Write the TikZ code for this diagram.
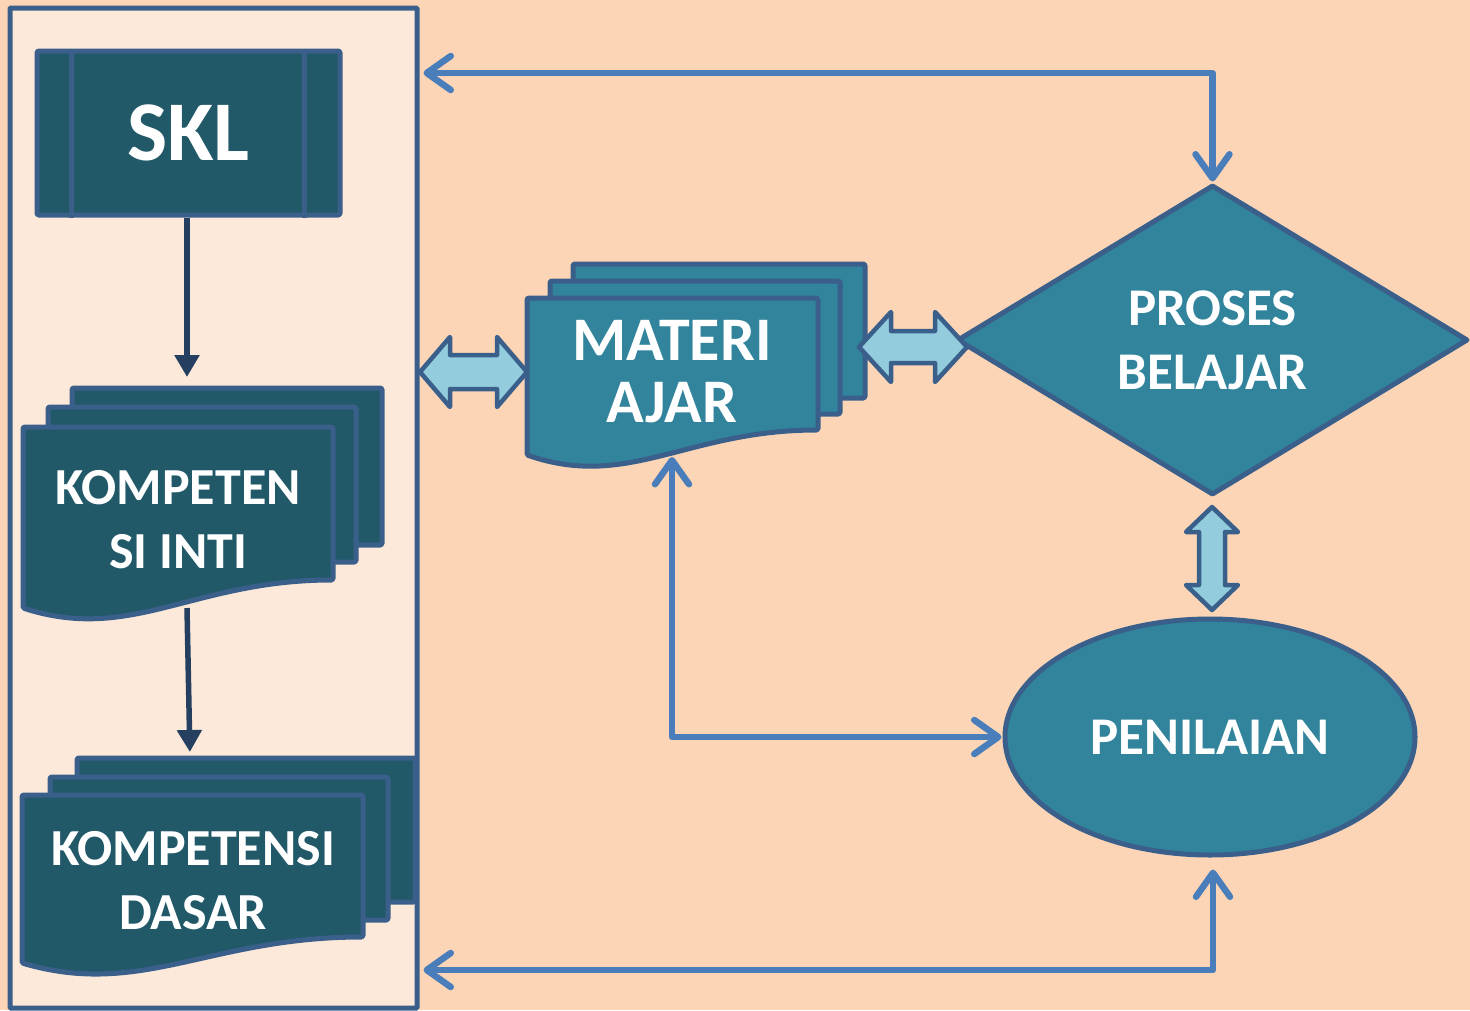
\documentclass[tikz,border=0pt]{standalone}
\usepackage{fontspec}
\setmainfont{Carlito}
\usetikzlibrary{arrows.meta,shapes.geometric}

\definecolor{bgpeach}{HTML}{FBD5B5}
\definecolor{panelfill}{HTML}{FDE9D9}
\definecolor{edgeblue}{HTML}{3A5F8B}
\definecolor{darkteal}{HTML}{215968}
\definecolor{midteal}{HTML}{31849B}
\definecolor{linkblue}{HTML}{4A7EBB}
\definecolor{navy}{HTML}{243F60}
\definecolor{paleblue}{HTML}{93CDDD}

% front sheet of a document stack: style, left, top, right, right-bottom, left-bottom
\newcommand{\docsheet}[6]{%
  \path[#1] (#2,#3) -- (#4,#3) -- (#4,#5)
    .. controls ({#4-0.45*(#4-#2)},#5) and ({#2+0.35*(#4-#2)},{#6+35}) .. (#2,#6) -- cycle;}
% horizontal two-headed block arrow: x1, x2, y, head length, head half-width, shaft half-width
\newcommand{\hblock}[6]{%
  \path[blockarrow] (#1,#3) -- ({#1+#4},{#3-#5}) -- ({#1+#4},{#3-#6}) -- ({#2-#4},{#3-#6})
    -- ({#2-#4},{#3-#5}) -- (#2,#3) -- ({#2-#4},{#3+#5}) -- ({#2-#4},{#3+#6})
    -- ({#1+#4},{#3+#6}) -- ({#1+#4},{#3+#5}) -- cycle;}
% vertical two-headed block arrow: y1, y2, x, head length, head half-width, shaft half-width
\newcommand{\vblock}[6]{%
  \path[blockarrow] (#3,#1) -- ({#3-#5},{#1+#4}) -- ({#3-#6},{#1+#4}) -- ({#3-#6},{#2-#4})
    -- ({#3-#5},{#2-#4}) -- (#3,#2) -- ({#3+#5},{#2-#4}) -- ({#3+#6},{#2-#4})
    -- ({#3+#6},{#1+#4}) -- ({#3+#5},{#1+#4}) -- cycle;}

\begin{document}
\begin{tikzpicture}[x=1pt,y=-1pt,
  shapeedge/.style={draw=edgeblue, line width=5pt, line join=round},
  darkpage/.style={shapeedge, fill=darkteal, rounded corners=1.5pt},
  tealpage/.style={shapeedge, fill=midteal, rounded corners=1.5pt},
  blockarrow/.style={shapeedge, fill=paleblue, line width=4.5pt},
  label/.style={text=white, align=center, inner sep=0pt},
  conn/.style={draw=linkblue, line width=6.5pt, line join=round},
  flow/.style={draw=navy, line width=5.5pt, -{Triangle[length=22pt,width=24pt]}},
  >={Straight Barb[length=24pt,width=34pt,round]}]

\fill[bgpeach] (0,0) rectangle (1470,1010);
\useasboundingbox (0,0) rectangle (1470,1010);

% left panel
\node[draw=edgeblue, fill=panelfill, line width=5pt, minimum width=407pt,
      minimum height=1000pt, inner sep=0pt, rounded corners=1pt] (panel) at (213.5,508) {};

% SKL (predefined process box)
\node[darkpage, minimum width=303pt, minimum height=164pt, inner sep=0pt,
      label, font=\bfseries\fontsize{85}{100}\selectfont] (skl) at (188.5,133) {SKL};
\draw[shapeedge] ([xshift=37pt]skl.north west) -- ([xshift=37pt]skl.south west);
\draw[shapeedge] ([xshift=-38pt]skl.north east) -- ([xshift=-38pt]skl.south east);

% KOMPETENSI INTI stack
\path[darkpage] (72,388) rectangle (382,545);
\path[darkpage] (48,407) rectangle (356,562);
\docsheet{darkpage}{23}{427}{333}{580}{608}
\node[label, font=\bfseries\fontsize{52}{64}\selectfont] (ki) at (178,520) {KOMPETEN\\SI INTI};
\coordinate (ki-top) at (187,388);
\coordinate (ki-bottom) at (187,608);

% KOMPETENSI DASAR stack
\path[darkpage] (77,758) rectangle (415,902);
\path[darkpage] (50,777) rectangle (388,920);
\docsheet{darkpage}{22}{795}{363}{937}{963}
\node[label, font=\bfseries\fontsize{52}{64}\selectfont] (kd) at (193,881) {KOMPETENSI\\DASAR};
\coordinate (kd-top) at (190,758);

% MATERI AJAR stack
\path[tealpage] (573,264) rectangle (865,398);
\path[tealpage] (550,281) rectangle (840,414);
\docsheet{tealpage}{527}{298}{818}{430}{455}
\node[label, font=\bfseries\fontsize{62}{62}\selectfont] (ma) at (672,372) {MATERI\\AJAR};
\coordinate (ma-bottom) at (672,457);

% PROSES BELAJAR decision
\node[diamond, shapeedge, fill=midteal, minimum width=511pt, minimum height=310pt,
      inner sep=0pt, label, font=\bfseries\fontsize{53}{64}\selectfont] (pb) at (1212.5,340)
      {PROSES\\BELAJAR};

% PENILAIAN
\node[ellipse, shapeedge, fill=midteal, minimum width=410pt, minimum height=236pt,
      inner sep=0pt, label, font=\bfseries\fontsize{53}{64}\selectfont] (pen) at (1210,737)
      {PENILAIAN};

% flow within the left panel
\draw[flow, shorten >=11pt] (skl.south -| ki-top) -- (ki-top);
\draw[flow, shorten >=6pt] (ki-bottom) -- (kd-top);

% block arrows
\hblock{420}{527}{372}{30}{35}{17}
\hblock{859}{967}{347}{32}{35}{16}
\vblock{507}{610}{1212}{25}{26}{13}

% feedback connectors
\coordinate (topturn) at (1212.5,73);
\coordinate (botturn) at (1213,970);
\draw[conn, <->, shorten <=4pt, shorten >=1pt] (panel.east |- topturn) -- (topturn) -- (pb.north);
\draw[conn, <->, shorten <=4pt, shorten >=12pt] (panel.east |- botturn) -- (botturn) -- (botturn |- pen.south);
\draw[conn, <->, shorten >=1pt] (ma-bottom) -- (ma-bottom |- pen.west) -- (pen.west);

\end{tikzpicture}
\end{document}
